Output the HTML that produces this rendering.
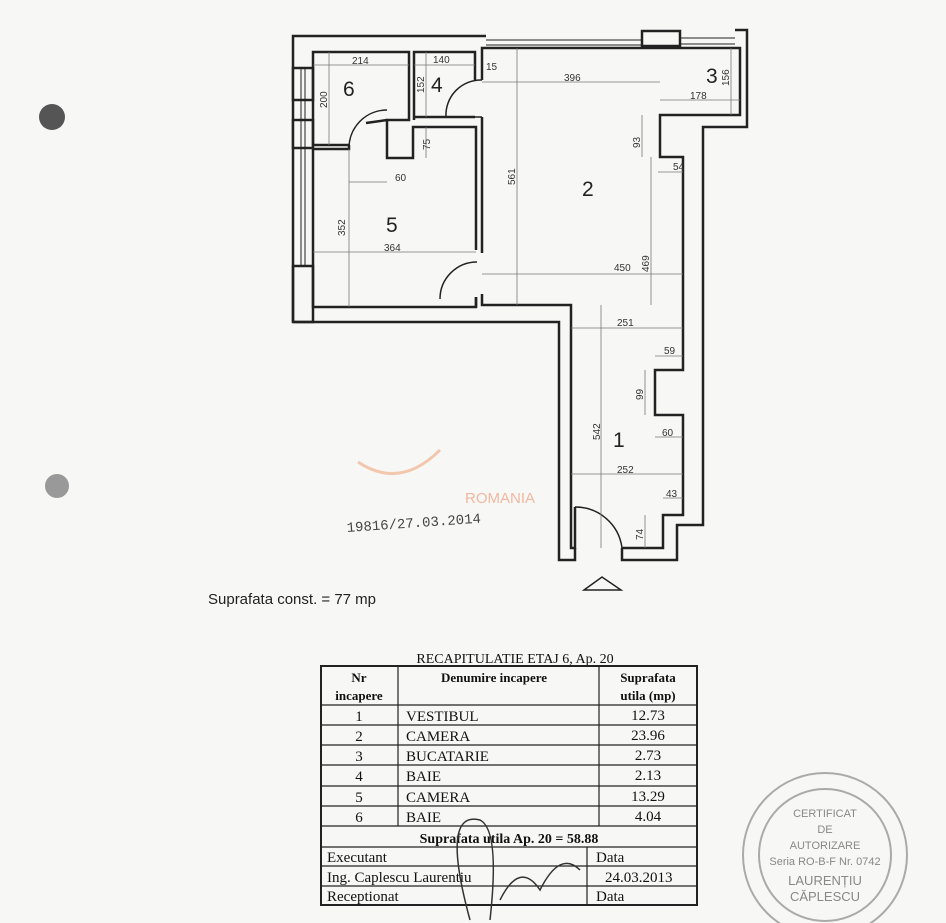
<!DOCTYPE html>
<html><head><meta charset="utf-8"><style>
html,body{margin:0;padding:0;background:#f7f7f5;}
svg{display:block}
</style></head><body>
<svg width="946" height="923" viewBox="0 0 946 923" xmlns="http://www.w3.org/2000/svg">
<rect width="946" height="923" fill="#f7f7f5"/>
<circle cx="52" cy="117" r="13" fill="#555"/>
<circle cx="57" cy="486" r="12" fill="#999"/>
<g fill="none" stroke="#222" stroke-width="2.5" stroke-linejoin="miter">
<polyline points="293,322 293,36 486,36"/>
<polyline points="735,30 747,30 747,127 703,127 703,525 677,525 677,560 622,560 622,548"/>
<polyline points="293,322 559,322 559,560 575,560 575,548"/>
<rect x="642" y="31" width="38" height="15" fill="#f7f7f5"/>
<line x1="486" y1="40" x2="642" y2="40" stroke-width="1"/>
<line x1="486" y1="45" x2="642" y2="45" stroke-width="1"/>
<line x1="680" y1="38" x2="735" y2="38" stroke-width="1"/>
<line x1="680" y1="44" x2="735" y2="44" stroke-width="1"/>
<rect x="293" y="68" width="20" height="32" fill="#f7f7f5"/>
<rect x="293" y="120" width="20" height="28" fill="#f7f7f5"/>
<rect x="293" y="266" width="20" height="56" fill="none"/>
<line x1="301" y1="68" x2="301" y2="266" stroke-width="1"/>
<line x1="305" y1="68" x2="305" y2="266" stroke-width="1"/>
<polyline points="350,145 313,145 313,52 409,52 409,120 387,120 387,158 413,158 413,127 476,127 476,232"/>
<polyline points="366,123 387,120"/>
<polyline points="349,145 349,149 313,149 313,307 476,307 476,297"/>
<line x1="476" y1="232" x2="476" y2="250"/>
<polyline points="414,120 414,52 475,52 475,80"/>
<polyline points="475,117 414,117"/>
<polyline points="482,80 482,48 740,48 740,115 660,115 660,157 683,157 683,370 655,370 655,415 683,415 683,515 663,515 663,548 622,548"/>
<polyline points="482,117 482,120 482,253"/>
<polyline points="482,294 482,305 571,305 571,548 575,548 575,507"/>
<line x1="476" y1="297" x2="476" y2="307"/>
<path d="M446,117 A35,35 0 0 1 482,80" stroke-width="1.5"/>
<line x1="446" y1="117" x2="482" y2="117" stroke-width="1.5"/>
<path d="M349,148 A38,38 0 0 1 387,110" stroke-width="1.5"/>
<path d="M440,299 A37,37 0 0 1 477,262" stroke-width="1.5"/>
<path d="M575,507 A47,47 0 0 1 622,548" stroke-width="1.5"/>
<path d="M584,590 L602,577 L621,590 Z" stroke-width="1.5"/>
</g>
<g stroke="#777" stroke-width="0.8" fill="none">
<line x1="313" y1="65" x2="409" y2="65"/><line x1="329" y1="52" x2="329" y2="145"/>
<line x1="414" y1="65" x2="475" y2="65"/><line x1="426" y1="52" x2="426" y2="117"/>
<line x1="482" y1="82" x2="660" y2="82"/><line x1="660" y1="100" x2="740" y2="100"/>
<line x1="731" y1="48" x2="731" y2="115"/><line x1="517" y1="48" x2="517" y2="305"/>
<line x1="642" y1="115" x2="642" y2="157"/><line x1="651" y1="157" x2="651" y2="305"/>
<line x1="658" y1="172" x2="683" y2="172"/><line x1="482" y1="274" x2="683" y2="274"/>
<line x1="349" y1="182" x2="387" y2="182"/><line x1="426" y1="127" x2="426" y2="158"/>
<line x1="313" y1="252" x2="476" y2="252"/><line x1="349" y1="149" x2="349" y2="307"/>
<line x1="571" y1="328" x2="683" y2="328"/><line x1="601" y1="305" x2="601" y2="548"/>
<line x1="655" y1="356" x2="683" y2="356"/><line x1="645" y1="370" x2="645" y2="415"/>
<line x1="655" y1="437" x2="683" y2="437"/><line x1="571" y1="474" x2="683" y2="474"/>
<line x1="663" y1="498" x2="683" y2="498"/><line x1="645" y1="515" x2="645" y2="548"/>
</g>
<g font-family="Liberation Sans, sans-serif" font-size="10" fill="#333">
<text x="352" y="64">214</text><text x="433" y="63">140</text><text x="486" y="70">15</text>
<text x="564" y="81">396</text><text x="690" y="99">178</text><text x="614" y="271">450</text>
<text x="617" y="326">251</text><text x="664" y="354">59</text><text x="662" y="436">60</text>
<text x="617" y="473">252</text><text x="666" y="497">43</text><text x="673" y="170">54</text>
<text x="395" y="181">60</text><text x="384" y="251">364</text>
<text transform="translate(327,108) rotate(-90)">200</text>
<text transform="translate(424,93) rotate(-90)">152</text>
<text transform="translate(430,150) rotate(-90)">75</text>
<text transform="translate(345,236) rotate(-90)">352</text>
<text transform="translate(515,185) rotate(-90)">561</text>
<text transform="translate(640,148) rotate(-90)">93</text>
<text transform="translate(649,272) rotate(-90)">469</text>
<text transform="translate(600,440) rotate(-90)">542</text>
<text transform="translate(643,400) rotate(-90)">99</text>
<text transform="translate(643,540) rotate(-90)">74</text>
<text transform="translate(729,86) rotate(-90)">156</text>
</g>
<g font-family="Liberation Sans, sans-serif" font-size="21" fill="#222">
<text x="343" y="96">6</text><text x="431" y="92">4</text><text x="706" y="83">3</text>
<text x="582" y="196">2</text><text x="386" y="232">5</text><text x="613" y="447">1</text>
</g>
<text x="465" y="503" font-family="Liberation Sans, sans-serif" font-size="15" fill="#f0b8a0">ROMANIA</text>
<path d="M358,462 Q400,490 440,450" stroke="#f3c6ae" stroke-width="3" fill="none"/>
<text transform="translate(347,532) rotate(-4)" font-family="Liberation Mono, monospace" font-size="14" fill="#444">19816/27.03.2014</text>
<text x="208" y="604" font-family="Liberation Sans, sans-serif" font-size="15" fill="#222">Suprafata const. = 77 mp</text>
<g font-family="Liberation Serif, serif" fill="#111">
<text x="515" y="663" font-size="14" text-anchor="middle">RECAPITULATIE  ETAJ 6,  Ap. 20</text>
<g stroke="#222" stroke-width="1.2" fill="none">
<rect x="321" y="666" width="376" height="239" stroke-width="2"/>
<line x1="321" y1="705" x2="697" y2="705"/>
<line x1="321" y1="725" x2="697" y2="725"/><line x1="321" y1="745" x2="697" y2="745"/>
<line x1="321" y1="765" x2="697" y2="765"/><line x1="321" y1="786" x2="697" y2="786"/>
<line x1="321" y1="806" x2="697" y2="806"/><line x1="321" y1="826" x2="697" y2="826"/>
<line x1="321" y1="847" x2="697" y2="847"/><line x1="321" y1="866" x2="697" y2="866"/>
<line x1="321" y1="886" x2="697" y2="886"/>
<line x1="398" y1="666" x2="398" y2="826"/><line x1="599" y1="666" x2="599" y2="826"/>
<line x1="587" y1="847" x2="587" y2="905"/>
</g>
<g font-size="13" font-weight="bold" text-anchor="middle">
<text x="359" y="682">Nr</text><text x="359" y="700">incapere</text>
<text x="494" y="682">Denumire incapere</text>
<text x="648" y="682">Suprafata</text><text x="648" y="700">utila (mp)</text>
<text x="509" y="843" font-size="14">Suprafata utila Ap. 20 = 58.88</text>
</g>
<g font-size="15">
<g text-anchor="middle"><text x="359" y="721">1</text><text x="359" y="741">2</text><text x="359" y="761">3</text><text x="359" y="781">4</text><text x="359" y="802">5</text><text x="359" y="822">6</text>
<text x="648" y="720">12.73</text><text x="648" y="740">23.96</text><text x="648" y="760">2.73</text><text x="648" y="780">2.13</text><text x="648" y="801">13.29</text><text x="648" y="821">4.04</text></g>
<text x="406" y="721">VESTIBUL</text><text x="406" y="741">CAMERA</text><text x="406" y="761">BUCATARIE</text><text x="406" y="781">BAIE</text><text x="406" y="802">CAMERA</text><text x="406" y="822">BAIE</text>
<text x="327" y="862">Executant</text><text x="596" y="862">Data</text>
<text x="327" y="882">Ing. Caplescu Laurentiu</text><text x="605" y="882">24.03.2013</text>
<text x="327" y="901">Receptionat</text><text x="596" y="901">Data</text>
</g>
</g>
<path d="M470,920 Q440,810 480,820 Q500,830 490,920 M500,900 Q520,860 540,890 Q560,850 580,870" stroke="#333" stroke-width="1.5" fill="none"/>
<g fill="none" stroke="#aaa" stroke-width="2">
<circle cx="825" cy="855" r="82"/><circle cx="825" cy="855" r="66"/>
</g>
<g font-family="Liberation Sans, sans-serif" font-size="11" fill="#888" text-anchor="middle">
<text x="825" y="817">CERTIFICAT</text><text x="825" y="833">DE</text><text x="825" y="849">AUTORIZARE</text>
<text x="825" y="865">Seria RO-B-F Nr. 0742</text>
<text x="825" y="885" font-size="13">LAURENȚIU</text><text x="825" y="901" font-size="13">CĂPLESCU</text>
</g>
</svg>
</body></html>
